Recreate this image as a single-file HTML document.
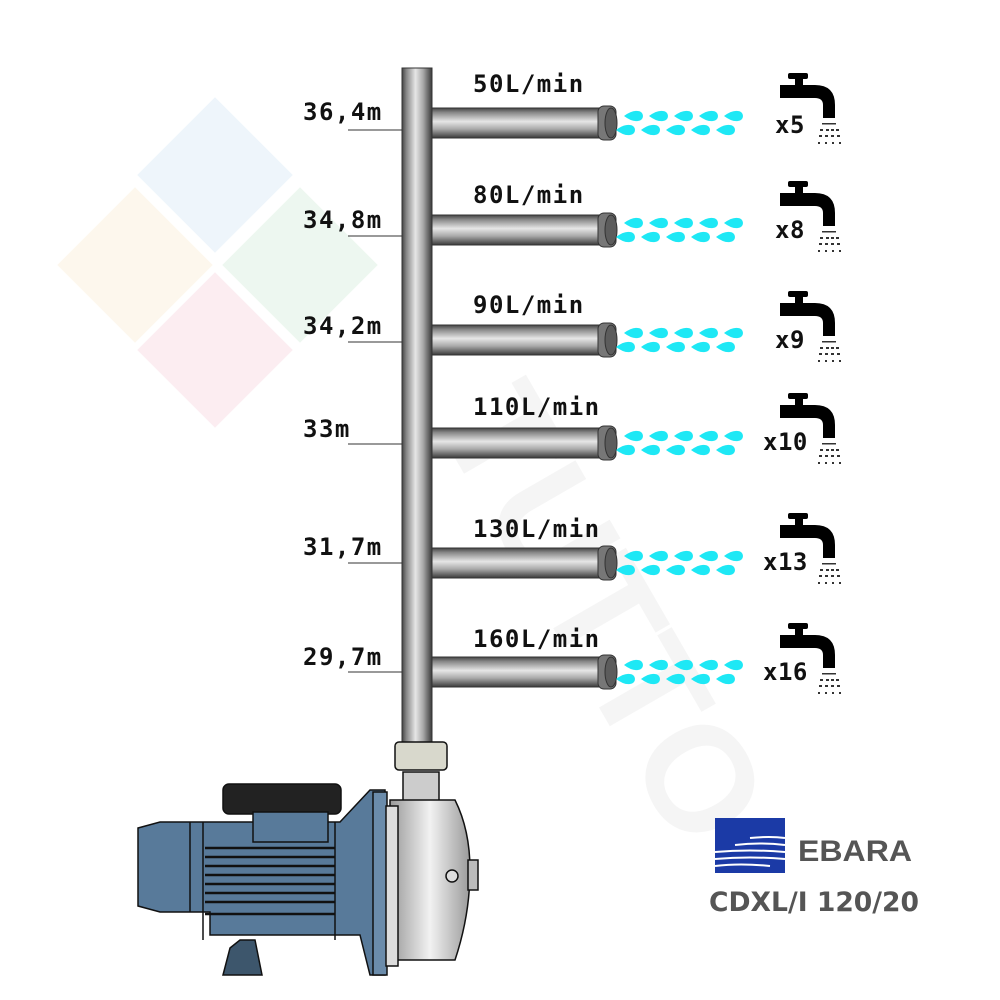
<!DOCTYPE html>
<html><head><meta charset="utf-8"><style>
html,body{margin:0;padding:0;background:#fff;}
svg{display:block}
.m{font-family:"DejaVu Sans Mono","Liberation Mono",monospace;font-size:24px;font-weight:bold;fill:#111;letter-spacing:1.5px;}
.t{font-family:"DejaVu Sans Mono","Liberation Mono",monospace;font-size:24px;font-weight:bold;fill:#111;letter-spacing:0.5px;}
</style></head><body>
<svg width="1000" height="1000" viewBox="0 0 1000 1000" xmlns="http://www.w3.org/2000/svg">
<defs>
<linearGradient id="hp" x1="0" y1="0" x2="0" y2="1">
<stop offset="0" stop-color="#444"/><stop offset="0.15" stop-color="#888"/><stop offset="0.45" stop-color="#e6e6e6"/><stop offset="0.7" stop-color="#aaa"/><stop offset="1" stop-color="#3a3a3a"/></linearGradient>
<linearGradient id="vp" x1="0" y1="0" x2="1" y2="0">
<stop offset="0" stop-color="#444"/><stop offset="0.15" stop-color="#888"/><stop offset="0.45" stop-color="#e6e6e6"/><stop offset="0.7" stop-color="#aaa"/><stop offset="1" stop-color="#3a3a3a"/></linearGradient>
<linearGradient id="st" x1="0" y1="0" x2="1" y2="0">
<stop offset="0" stop-color="#999"/><stop offset="0.5" stop-color="#f2f2f2"/><stop offset="1" stop-color="#9a9a9a"/></linearGradient>
<path id="d" d="M-8,0 Q0,-6 6,-5 A5,5 0 0 1 6,5 Q0,6 -8,0 Z" fill="#1ee8f5"/>
<g id="drops">
<use href="#d" x="632" y="-7"/><use href="#d" x="657" y="-7"/><use href="#d" x="682" y="-7"/><use href="#d" x="707" y="-7"/><use href="#d" x="732" y="-7"/>
<use href="#d" x="624" y="7"/><use href="#d" x="649" y="7"/><use href="#d" x="674" y="7"/><use href="#d" x="699" y="7"/><use href="#d" x="724" y="7"/>
</g>
<g id="pipe">
<rect x="432" y="0" width="170" height="30" fill="url(#hp)" stroke="#333" stroke-width="1"/>
<rect x="598" y="-2" width="18" height="34" rx="6" fill="#777" stroke="#333"/>
<ellipse cx="611" cy="15" rx="6" ry="15" fill="#5c5c5c" stroke="#333"/>
</g>
<g id="tap" fill="#000">
<rect x="8" y="1" width="20" height="6" rx="2"/>
<rect x="15" y="6" width="8" height="8"/>
<path d="M0,13 H35 Q55,13 55,33 V46 H43 V33 Q43,26 35,26 H0 Z"/>
<g fill="#333">
<rect x="42" y="51" width="14" height="1.5"/>
<rect x="40" y="57" width="3" height="2"/><rect x="46" y="57" width="3" height="2"/><rect x="51" y="57" width="3" height="2"/><rect x="56" y="57" width="3" height="2"/>
<rect x="39" y="63" width="3" height="2"/><rect x="45" y="63" width="3" height="2"/><rect x="51" y="63" width="3" height="2"/><rect x="57" y="63" width="3" height="2"/>
<rect x="38" y="70" width="2" height="2"/><rect x="45" y="70" width="2" height="2"/><rect x="52" y="70" width="2" height="2"/><rect x="59" y="70" width="2" height="2"/>
</g>
</g>
</defs>

<g opacity="0.09">
<rect x="160" y="120" width="110" height="110" transform="rotate(45 215 175)" fill="#4a9ad8"/>
<rect x="80" y="210" width="110" height="110" transform="rotate(45 135 265)" fill="#f0b040"/>
<rect x="245" y="210" width="110" height="110" transform="rotate(45 300 265)" fill="#40b060"/>
<rect x="160" y="295" width="110" height="110" transform="rotate(45 215 350)" fill="#e04070"/>
</g>
<text x="560" y="640" font-family="Liberation Sans,sans-serif" font-weight="bold" font-size="150" fill="#000" opacity="0.035" transform="rotate(60 560 640)" text-anchor="middle">TUTTO</text>

<rect x="402" y="68" width="30" height="680" fill="url(#vp)" stroke="#333"/>

<g>
<text class="m" x="473" y="92">50L/min</text>
<use href="#pipe" y="108"/><use href="#drops" y="123"/>
<text class="m" x="303" y="120">36,4m</text><line x1="348" y1="130" x2="402" y2="130" stroke="#333"/>
<use href="#tap" x="780" y="72"/><text class="t" x="775" y="133">x5</text>
</g>
<g>
<text class="m" x="473" y="203">80L/min</text>
<use href="#pipe" y="215"/><use href="#drops" y="230"/>
<text class="m" x="303" y="228">34,8m</text><line x1="348" y1="236" x2="402" y2="236" stroke="#333"/>
<use href="#tap" x="780" y="180"/><text class="t" x="775" y="238">x8</text>
</g>
<g>
<text class="m" x="473" y="313">90L/min</text>
<use href="#pipe" y="325"/><use href="#drops" y="340"/>
<text class="m" x="303" y="334">34,2m</text><line x1="348" y1="342" x2="402" y2="342" stroke="#333"/>
<use href="#tap" x="780" y="290"/><text class="t" x="775" y="348">x9</text>
</g>
<g>
<text class="m" x="473" y="415">110L/min</text>
<use href="#pipe" y="428"/><use href="#drops" y="443"/>
<text class="m" x="303" y="437">33m</text><line x1="348" y1="444" x2="402" y2="444" stroke="#333"/>
<use href="#tap" x="780" y="392"/><text class="t" x="763" y="450">x10</text>
</g>
<g>
<text class="m" x="473" y="537">130L/min</text>
<use href="#pipe" y="548"/><use href="#drops" y="563"/>
<text class="m" x="303" y="555">31,7m</text><line x1="348" y1="563" x2="402" y2="563" stroke="#333"/>
<use href="#tap" x="780" y="512"/><text class="t" x="763" y="570">x13</text>
</g>
<g>
<text class="m" x="473" y="647">160L/min</text>
<use href="#pipe" y="657"/><use href="#drops" y="672"/>
<text class="m" x="303" y="665">29,7m</text><line x1="348" y1="672" x2="402" y2="672" stroke="#333"/>
<use href="#tap" x="780" y="622"/><text class="t" x="763" y="680">x16</text>
</g>

<g stroke="#111" stroke-width="1.5">
<rect x="395" y="742" width="52" height="28" rx="4" fill="#d8d8cc"/>
<rect x="403" y="772" width="36" height="30" fill="#ccc"/>
<path d="M138,828 L160,822 H340 L370,790 H385 V975 H370 L360,935 H210 V912 H160 L138,906 Z" fill="#587a9a"/>
<rect x="223" y="784" width="118" height="30" rx="6" fill="#222"/>
<rect x="253" y="812" width="75" height="30" fill="#587a9a"/>
<g stroke-width="2.5">
<line x1="205" y1="848" x2="335" y2="848"/><line x1="205" y1="857" x2="335" y2="857"/><line x1="205" y1="866" x2="335" y2="866"/><line x1="205" y1="875" x2="335" y2="875"/><line x1="205" y1="884" x2="335" y2="884"/><line x1="205" y1="893" x2="335" y2="893"/><line x1="205" y1="902" x2="335" y2="902"/><line x1="205" y1="914" x2="335" y2="914"/>
</g>
<line x1="190" y1="822" x2="190" y2="912"/><line x1="203" y1="822" x2="203" y2="940"/><line x1="335" y1="822" x2="335" y2="940"/>
<path d="M230,948 L240,940 H255 L262,975 H223 Z" fill="#3d566c"/>
<rect x="373" y="792" width="14" height="183" fill="#6b8cab"/>
<path d="M390,800 H455 Q470,830 470,870 Q470,915 455,960 H390 Z" fill="url(#st)"/>
<rect x="386" y="806" width="12" height="160" fill="#ddd"/>
<rect x="468" y="860" width="10" height="30" fill="#bbb"/>
<circle cx="452" cy="876" r="6" fill="#ddd"/>
</g>

<rect x="715" y="818" width="70" height="55" fill="#1b3aa6"/>
<g stroke="#fff" stroke-width="2" fill="none">
<path d="M750,838 Q770,836 785,838"/><path d="M735,845 Q760,842 785,845"/><path d="M715,852 Q750,849 785,852"/><path d="M715,859 Q750,856 785,859"/><path d="M715,866 Q740,863 770,866"/>
</g>
<text x="798" y="861" font-family="Liberation Sans,sans-serif" font-weight="bold" font-size="30" fill="#555" textLength="114" lengthAdjust="spacingAndGlyphs">EBARA</text>
<text x="709" y="911" font-family="DejaVu Sans,Liberation Sans,sans-serif" font-weight="bold" font-size="27" fill="#555" textLength="210" lengthAdjust="spacingAndGlyphs">CDXL/I 120/20</text>
</svg>
</body></html>
